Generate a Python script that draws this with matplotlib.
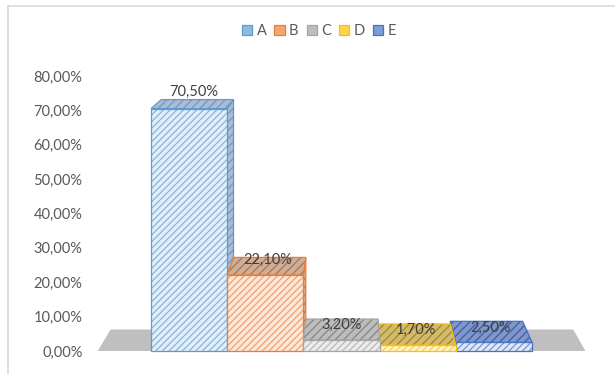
import matplotlib.pyplot as plt
from matplotlib.patches import Polygon, Patch
from matplotlib.lines import Line2D

plt.rcParams['font.family'] = ['Lato', 'DejaVu Sans']
plt.rcParams['hatch.linewidth'] = 1.0

# data
categories = ['A', 'B', 'C', 'D', 'E']
values = [70.5, 22.1, 3.2, 1.7, 2.5]
yticks = [0, 10, 20, 30, 40, 50, 60, 70, 80]
ytick_labels = ['{:.2f}%'.format(v).replace('.', ',') for v in yticks]
value_labels = ['{:.2f}%'.format(v).replace('.', ',') for v in values]

# colours per series: edge, front fill, front hatch, top face, top hatch
edge_cols = ['#5B9BD5', '#ED7D31', '#A5A5A5', '#FFC000', '#4472C4']
front_fill = ['#E3EEF9', '#FCE9DC', '#EDEDED', '#FFF4D1', '#E0E8F6']
front_hatch = ['#8DB9E2', '#F2A676', '#BDBDBD', '#FFD34D', '#7D9CD8']
top_face = ['#A9BDD6', '#CFAE98', '#BDBDBD', '#D2BB6C', '#8097CC']
top_hatch = ['#7E98BC', '#A9795A', '#8A8A8A', '#A68A35', '#4462A6']

# pseudo perspective (vanishing point in data units)
VX, VY, T = 2.1, 121.6, 0.0515


def back(x, y, t=T):
    return (x + (VX - x) * t, y + (VY - y) * t)


fig = plt.figure(figsize=(6.15, 3.74), dpi=100)
ax = fig.add_axes([97.7 / 615, 23 / 374, 487.7 / 615, 309.4 / 374])
ax.set_xlim(-1.2, 5.2)
ax.set_ylim(0, 90)


def face(pts, fc, hc, ec, z, hatch='/////'):
    ax.add_patch(Polygon(pts, closed=True, facecolor=fc, edgecolor=hc,
                         hatch=hatch, lw=0, zorder=z, clip_on=False))
    ax.add_patch(Polygon(pts, closed=True, fill=False, edgecolor=ec,
                         lw=0.9, zorder=z, clip_on=False))


# floor
fx0, fx1 = -1.2, 5.2
ax.add_patch(Polygon([(fx0, 0), (fx1, 0), back(fx1, 0), back(fx0, 0)],
                     closed=True, facecolor='#BFBFBF', edgecolor='none',
                     zorder=1, clip_on=False))

# painter's order: farthest from the vanishing x first
order = sorted(range(len(values)), key=lambda i: -abs(i - VX))
for k, i in enumerate(order):
    x0, x1, h = i - 0.5, i + 0.5, values[i]
    z = 2 + k
    c = edge_cols[i]
    if x1 < VX:
        face([(x1, 0), (x1, h), back(x1, h), back(x1, 0)],
             top_face[i], top_hatch[i], c, z, '////')
    if x0 > VX:
        face([(x0, 0), (x0, h), back(x0, h), back(x0, 0)],
             top_face[i], top_hatch[i], c, z, '////')
    face([(x0, 0), (x1, 0), (x1, h), (x0, h)], front_fill[i], front_hatch[i], c, z)
    face([(x0, h), (x1, h), back(x1, h), back(x0, h)],
         top_face[i], top_hatch[i], c, z, '////')

for i, h in enumerate(values):
    ax.annotate(value_labels[i], back(i, h, T / 2), xytext=(0, 4 + 0.11 * h),
                textcoords='offset pixels', ha='center', va='center',
                fontsize=10.5, color='#404040', zorder=20)

ax.set_xticks([])
ax.set_yticks(yticks)
ax.set_yticklabels(ytick_labels)
ax.tick_params(axis='y', length=0, pad=11, labelsize=10.5, labelcolor='#595959')
for s in ax.spines.values():
    s.set_visible(False)

handles = [Patch(facecolor=front_hatch[i], edgecolor=edge_cols[i], lw=0.9)
           for i in range(len(categories))]
leg = fig.legend(handles, categories, loc='center', ncol=5,
                 bbox_to_anchor=(319 / 615, 1 - 31 / 374), frameon=False,
                 fontsize=10.5, handlelength=0.7, handleheight=0.7,
                 handletextpad=0.3, columnspacing=0.55, labelcolor='#595959')

# chart frame (cut off at right and bottom)
fig.add_artist(Line2D([8 / 615, 1], [1 - 6 / 374, 1 - 6 / 374],
                      color='#D9D9D9', lw=1.2))
fig.add_artist(Line2D([8 / 615, 8 / 615], [0, 1 - 6 / 374],
                      color='#D9D9D9', lw=1.2))

fig.savefig('out.png', dpi=100)
